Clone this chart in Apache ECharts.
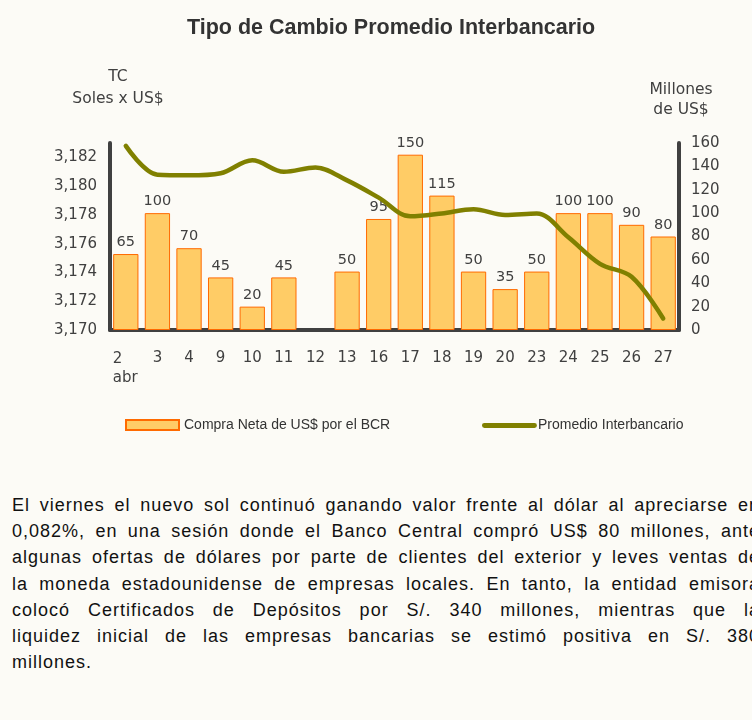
<!DOCTYPE html>
<html>
<head>
<meta charset="utf-8">
<script src="https://cdn.jsdelivr.net/npm/echarts@6/dist/echarts.min.js"></script>
<style>
  html, body { margin: 0; padding: 0; background: #fcfbf6; overflow: hidden; width: 752px; height: 720px; }
  #chart { width: 752px; height: 460px; }
  #texto { position: absolute; left: 12px; top: 492px; width: 748px; font-family: "Liberation Sans", Arial, sans-serif;
           font-size: 18px; letter-spacing: 1px; line-height: 26.2px; color: #111; }
  #texto div { text-align: justify; text-align-last: justify; white-space: nowrap; }
  #texto div.ult { text-align-last: left; }
</style>
</head>
<body>
<div id="chart"></div>
<div id="texto">
  <div>El viernes el nuevo sol continuó ganando valor frente al dólar al apreciarse en</div>
  <div>0,082%, en una sesión donde el Banco Central compró US$ 80 millones, ante</div>
  <div>algunas ofertas de dólares por parte de clientes del exterior y leves ventas de</div>
  <div>la moneda estadounidense de empresas locales. En tanto, la entidad emisora</div>
  <div>colocó Certificados de Depósitos por S/. 340 millones, mientras que la</div>
  <div>liquidez inicial de las empresas bancarias se estimó positiva en S/. 380</div>
  <div class="ult">millones.</div>
</div>
<script>
document.addEventListener('DOMContentLoaded', function () {
    var myChart = echarts.init(document.getElementById('chart'));

    // dias de abril
    const dias = ['2', '3', '4', '9', '10', '11', '12', '13', '16', '17', '18', '19', '20', '23', '24', '25', '26', '27'];
    // compra neta del BCR, millones de US$ (el 12 no hubo compra)
    const compraNeta = [65, 100, 70, 45, 20, 45, null, 50, 95, 150, 115, 50, 35, 50, 100, 100, 90, 80];
    // tipo de cambio promedio interbancario
    const tipoCambio = [3182.8, 3180.8, 3180.75, 3180.9, 3181.8, 3181.0, 3181.3, 3180.4, 3179.2,
        3177.9, 3178.1, 3178.4, 3178.0, 3178.1, 3176.45, 3174.6, 3173.7, 3170.8];

    const gris = '#404040';
    const oliva = '#808000';
    const fuenteEje = 'DejaVu Sans, Verdana, sans-serif';
    const fuenteLeyenda = { fontFamily: 'Liberation Sans, Arial', fontSize: 14, color: '#333' };

    const option = {
        backgroundColor: '#fcfbf6',
        animation: false,
        title: {
            text: 'Tipo de Cambio Promedio Interbancario',
            left: 182,
            top: 12,
            textStyle: { fontFamily: 'Liberation Sans, Arial', fontSize: 21.5, fontWeight: 'bold', color: '#333' }
        },
        legend: [
            {
                top: 418,
                left: 125,
                padding: 0,
                itemWidth: 53,
                itemHeight: 10,
                textStyle: fuenteLeyenda,
                data: [{ name: 'Compra Neta de US$ por el BCR', icon: 'rect' }]
            },
            {
                top: 418,
                left: 482,
                padding: 0,
                itemWidth: 55,
                itemHeight: 10,
                textStyle: Object.assign({ padding: [0, 0, 0, -4] }, fuenteLeyenda),
                data: [{
                    name: 'Promedio Interbancario',
                    icon: 'path://M2.5,3 L52.5,3 A2.5,2.5 0 0 1 52.5,8 L2.5,8 A2.5,2.5 0 0 1 2.5,3 Z M0,0 L0,0.01 M55,10 L55,10.01',
                    itemStyle: { color: oliva }
                }]
            }
        ],
        grid: { left: 110, right: 73, top: 143, bottom: 130 },
        xAxis: {
            type: 'category',
            data: dias,
            axisLine: { lineStyle: { color: gris, width: 4 } },
            axisTick: { show: false },
            axisLabel: {
                fontFamily: fuenteEje, fontSize: 15, color: gris, margin: 20, interval: 0, lineHeight: 17,
                formatter: function (v, i) {
                    return i === 0 ? '{a|2}\n{a|abr}' : v;
                },
                rich: { a: { width: 26, align: 'left', fontFamily: fuenteEje, fontSize: 15, color: gris, lineHeight: 19 } }
            }
        },
        yAxis: [
            {
                type: 'value',
                min: 3170,
                max: 3183,
                interval: 2,
                name: 'TC\nSoles x US$',
                nameLocation: 'end',
                nameGap: 33,
                nameTextStyle: { fontFamily: fuenteEje, fontSize: 15.5, color: gris, align: 'center', lineHeight: 22, padding: [0, 0, 0, 16] },
                splitLine: { show: false },
                axisTick: { show: false },
                axisLine: { show: true, lineStyle: { color: gris, width: 4, cap: 'round' } },
                axisLabel: {
                    fontFamily: fuenteEje, fontSize: 15, color: gris, margin: 13, showMaxLabel: false,
                    formatter: function (v) { return v === 3183 ? '' : echarts.format.addCommas(v); }
                }
            },
            {
                type: 'value',
                min: 0,
                max: 160,
                interval: 20,
                name: 'Millones\nde US$',
                nameLocation: 'end',
                nameGap: 23,
                nameTextStyle: { fontFamily: fuenteEje, fontSize: 15.5, color: gris, align: 'center', lineHeight: 20, padding: [0, 0, 0, 4] },
                splitLine: { show: false },
                axisTick: { show: false },
                axisLine: { show: true, lineStyle: { color: gris, width: 4, cap: 'round' } },
                axisLabel: { fontFamily: fuenteEje, fontSize: 15, color: gris, margin: 12, align: 'left' }
            }
        ],
        series: [
            {
                name: 'Compra Neta de US$ por el BCR',
                type: 'bar',
                yAxisIndex: 1,
                data: compraNeta,
                barCategoryGap: '20%',
                itemStyle: { color: '#ffcc66', borderColor: '#ff6a00', borderWidth: 1 },
                label: { show: true, position: 'top', distance: 4, fontFamily: fuenteEje, fontSize: 14.5, color: gris }
            },
            {
                name: 'Promedio Interbancario',
                type: 'line',
                yAxisIndex: 0,
                data: tipoCambio,
                smooth: 0.35,
                symbol: 'none',
                z: 5,
                lineStyle: { color: oliva, width: 4.5, cap: 'round' },
                itemStyle: { color: oliva }
            }
        ]
    };

    myChart.setOption(option);
});
</script>
</body>
</html>
